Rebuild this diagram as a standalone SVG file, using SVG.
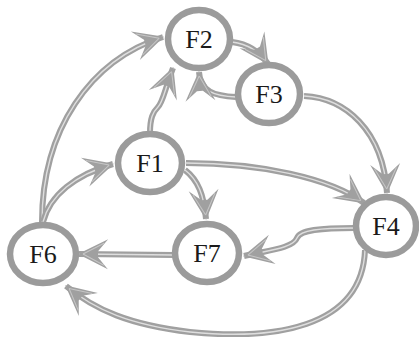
<svg xmlns="http://www.w3.org/2000/svg" width="419" height="337" viewBox="0 0 419 337">
<style>
.e{fill:none;stroke:#a0a0a0;stroke-width:6;stroke-linecap:butt}
.i{fill:none;stroke:#dedede;stroke-width:1.4;marker-end:url(#ah)}
.n{fill:#fff;stroke:#9b9b9b;stroke-width:6.5}
.t{font-size:26px;fill:#1a1a1a;text-anchor:middle}
</style>
<defs>
<marker id="ah" markerUnits="userSpaceOnUse" markerWidth="34" markerHeight="34" refX="0" refY="0" orient="auto" overflow="visible">
<path d="M1,0 L-29,-15 L-19,-3 L-19,3 L-29,15 Z" fill="#a0a0a0"/>
<path d="M-4,0 L-25,-11" stroke="#c6c6c6" stroke-width="1" fill="none"/>
<path d="M-4,0 L-25,11" stroke="#c6c6c6" stroke-width="1" fill="none"/>
</marker>
</defs>
<g id="connectors">
<path class="e" d="M42 222 C42 130 90 60 163 37"/>
<path class="i" d="M42 222 C42 130 90 60 163 37"/>
<path class="e" d="M43 222 C50 195 75 175 113 164"/>
<path class="i" d="M43 222 C50 195 75 175 113 164"/>
<path class="e" d="M150 133 C150 118 153 112 158 107 C163 102 164 92 173 68"/>
<path class="i" d="M150 133 C150 118 153 112 158 107 C163 102 164 92 173 68"/>
<path class="e" d="M232 42 C248 44 260 52 268 64"/>
<path class="i" d="M232 42 C248 44 260 52 268 64"/>
<path class="e" d="M236 97 C215 96 200 92 199 72"/>
<path class="i" d="M236 97 C215 96 200 92 199 72"/>
<path class="e" d="M304 96 C345 98 383 130 387 193"/>
<path class="i" d="M304 96 C345 98 383 130 387 193"/>
<path class="e" d="M186 163 C260 163 330 178 364 203"/>
<path class="i" d="M186 163 C260 163 330 178 364 203"/>
<path class="e" d="M185 170 C198 180 204 195 206 219"/>
<path class="i" d="M185 170 C198 180 204 195 206 219"/>
<path class="e" d="M354 228 C320 228 300 230 297 238 C293 248 270 250 244 256"/>
<path class="i" d="M354 228 C320 228 300 230 297 238 C293 248 270 250 244 256"/>
<path class="e" d="M174 255 L79 254"/>
<path class="i" d="M174 255 L79 254"/>
<path class="e" d="M365 250 C362 330 270 340 190 332 C130 325 95 310 66 286"/>
<path class="i" d="M365 250 C362 330 270 340 190 332 C130 325 95 310 66 286"/>
</g>
<g id="F2"><ellipse class="n" cx="199" cy="39" rx="31" ry="29"/><text class="t" font-family="Liberation Serif, serif" x="199" y="48">F2</text></g>
<g id="F3"><ellipse class="n" cx="269" cy="94" rx="31" ry="29"/><text class="t" font-family="Liberation Serif, serif" x="269" y="103">F3</text></g>
<g id="F1"><ellipse class="n" cx="150" cy="163" rx="32" ry="29"/><text class="t" font-family="Liberation Serif, serif" x="150" y="172">F1</text></g>
<g id="F6"><ellipse class="n" cx="43" cy="254" rx="33" ry="29"/><text class="t" font-family="Liberation Serif, serif" x="43" y="263">F6</text></g>
<g id="F7"><ellipse class="n" cx="207" cy="253" rx="32" ry="29"/><text class="t" font-family="Liberation Serif, serif" x="207" y="262">F7</text></g>
<g id="F4"><ellipse class="n" cx="386" cy="226" rx="30" ry="29"/><text class="t" font-family="Liberation Serif, serif" x="386" y="235">F4</text></g>
</svg>
